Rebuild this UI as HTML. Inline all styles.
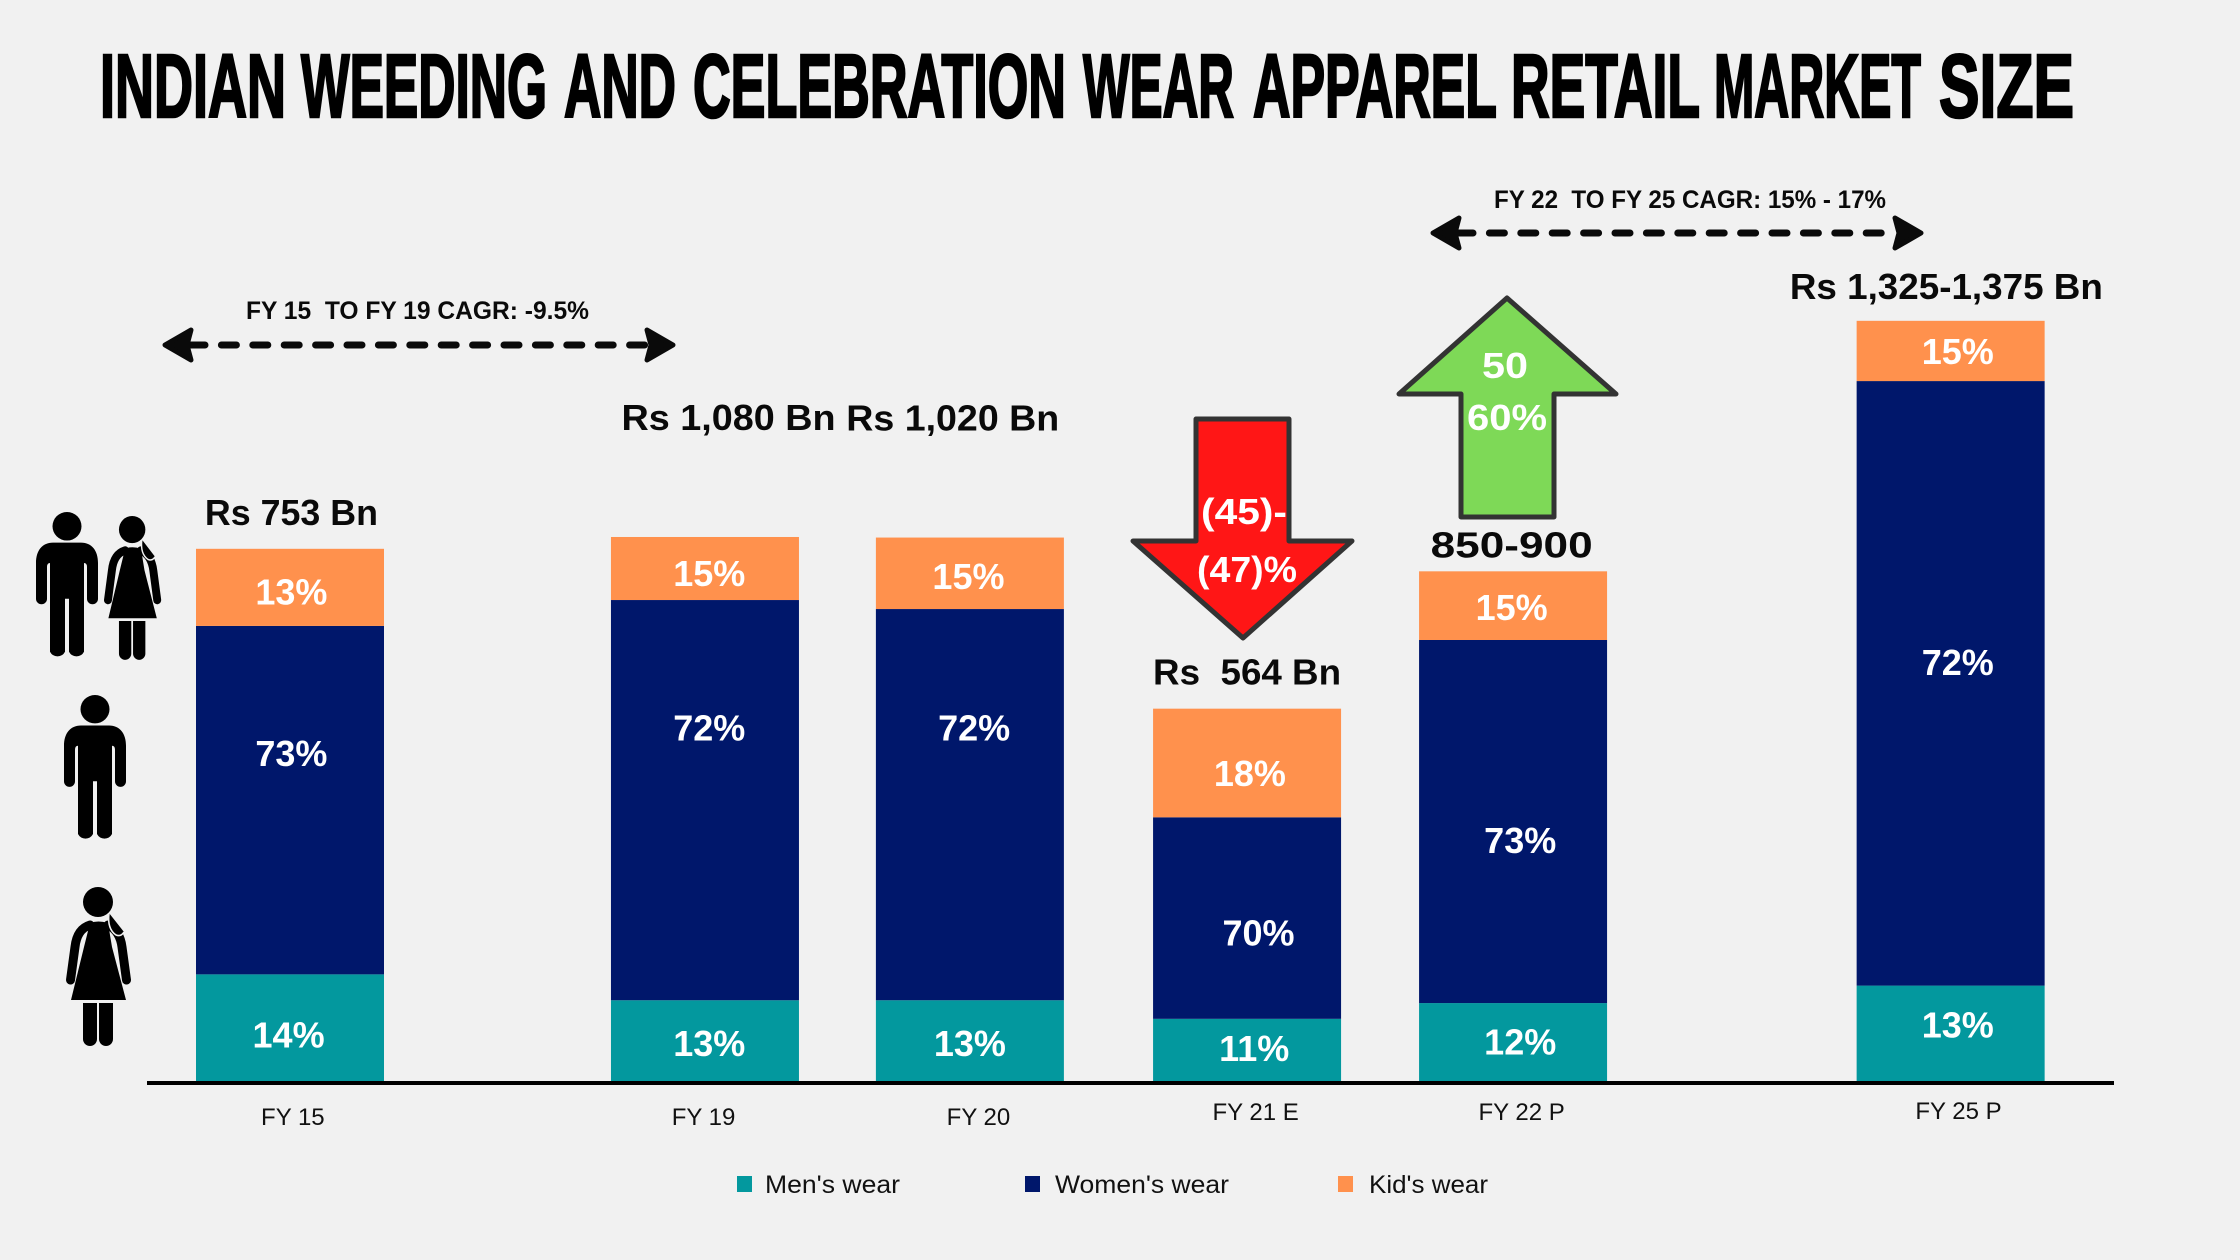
<!DOCTYPE html>
<html lang="en">
<head>
<meta charset="utf-8">
<title>Indian Wedding and Celebration Wear Apparel Retail Market Size</title>
<style>
  html, body { margin: 0; padding: 0; background: #f1f1f1; }
  svg { display: block; }
  text { font-family: "Liberation Sans", Arial, sans-serif; white-space: pre; }
  .cagr { font-size: 25px; font-weight: 700; fill: #0a0a0a; }
  .arrow-text { font-size: 36px; font-weight: 700; fill: #fff; text-anchor: middle; }
  .legend-text { font-size: 25px; fill: #111; }
</style>
</head>
<body>
<svg xmlns="http://www.w3.org/2000/svg" width="2240" height="1260" viewBox="0 0 2240 1260">
  <defs>
    <g id="man-shape">
      <ellipse cx="31" cy="14" rx="14.5" ry="14"/>
      <path d="M17 30 H45 C56 30 62 38 62 50 V85 A5.5 5.5 0 0 1 51 85 V54 Q51 50 48 50 V137 A8.5 8.5 0 0 1 33 137 V85 H29 V137 A8.5 8.5 0 0 1 14 137 V50 Q11 50 11 54 V85 A5.5 5.5 0 0 1 0 85 V50 C0 38 6 30 17 30 Z"/>
    </g>
    <g id="woman-shape">
      <ellipse cx="32" cy="15" rx="15" ry="15"/>
      <path d="M24 36 Q32 33 42 36 L46 60 L60 113 H5 L18 60 Z"/>
      <path d="M24 38 Q11 42 9 60 L4.5 93" fill="none" stroke="#000" stroke-width="9" stroke-linecap="round"/>
      <path d="M42 38 Q54 44 56 60 L60.5 93" fill="none" stroke="#000" stroke-width="9" stroke-linecap="round"/>
      <path d="M17 116 H31 V152 A7 7 0 0 1 17 152 Z"/>
      <path d="M33 116 H47 V152 A7 7 0 0 1 33 152 Z"/>
      <path d="M43 26 Q41 42 50 48 Q55 50 58 45" fill="#000" stroke="#f1f1f1" stroke-width="1.6"/>
    </g>
  </defs>

  <rect x="0" y="0" width="2240" height="1260" fill="#f1f1f1"/>

  <text y="117" font-size="90" font-weight="700" fill="#000" stroke="#000" stroke-width="2.6"><tspan x="100" textLength="186" lengthAdjust="spacingAndGlyphs">INDIAN</tspan> <tspan x="301" textLength="246" lengthAdjust="spacingAndGlyphs">WEEDING</tspan> <tspan x="564" textLength="112" lengthAdjust="spacingAndGlyphs">AND</tspan> <tspan x="693" textLength="373" lengthAdjust="spacingAndGlyphs">CELEBRATION</tspan> <tspan x="1083" textLength="151" lengthAdjust="spacingAndGlyphs">WEAR</tspan> <tspan x="1253" textLength="243" lengthAdjust="spacingAndGlyphs">APPAREL</tspan> <tspan x="1511" textLength="188" lengthAdjust="spacingAndGlyphs">RETAIL</tspan> <tspan x="1714" textLength="207" lengthAdjust="spacingAndGlyphs">MARKET</tspan> <tspan x="1939" textLength="135" lengthAdjust="spacingAndGlyphs">SIZE</tspan></text>

  <g id="bars"></g>
  <rect x="147" y="1081" width="1967" height="4" fill="#000"/>
  <g id="labels"></g>
  <g id="ticks"></g>

  <g>
    <text class="cagr" x="246" y="319" textLength="343" lengthAdjust="spacingAndGlyphs">FY 15  TO FY 19 CAGR: -9.5%</text>
    <line x1="190" y1="345" x2="650" y2="345" stroke="#0a0a0a" stroke-width="7" stroke-linecap="round" stroke-dasharray="15 16.4"/>
    <path d="M165 345 L191 330 L187 345 L191 360 Z" fill="#0a0a0a" stroke="#0a0a0a" stroke-width="5" stroke-linejoin="round"/>
    <path d="M673 345 L647 330 L651 345 L647 360 Z" fill="#0a0a0a" stroke="#0a0a0a" stroke-width="5" stroke-linejoin="round"/>
  </g>

  <g>
    <text class="cagr" x="1494" y="208" textLength="392" lengthAdjust="spacingAndGlyphs">FY 22  TO FY 25 CAGR: 15% - 17%</text>
    <line x1="1458" y1="233" x2="1897" y2="233" stroke="#0a0a0a" stroke-width="7" stroke-linecap="round" stroke-dasharray="15 16.4"/>
    <path d="M1433 233 L1459 218 L1455 233 L1459 248 Z" fill="#0a0a0a" stroke="#0a0a0a" stroke-width="5" stroke-linejoin="round"/>
    <path d="M1921 233 L1895 218 L1899 233 L1895 248 Z" fill="#0a0a0a" stroke="#0a0a0a" stroke-width="5" stroke-linejoin="round"/>
  </g>

  <g>
    <path d="M1196 419 H1289 V541 H1352 L1243 638 L1133 541 H1196 Z" fill="#ff1616" stroke="#333" stroke-width="5" stroke-linejoin="round"/>
    <text class="arrow-text" x="1244" y="524" textLength="86" lengthAdjust="spacingAndGlyphs">(45)-</text>
    <text class="arrow-text" x="1247" y="582" textLength="100" lengthAdjust="spacingAndGlyphs">(47)%</text>
  </g>

  <g>
    <path d="M1507 298 L1616 394 H1554 V517 H1461 V394 H1399 Z" fill="#7ed957" stroke="#333" stroke-width="5" stroke-linejoin="round"/>
    <text class="arrow-text" x="1505" y="378" textLength="46" lengthAdjust="spacingAndGlyphs">50</text>
    <text class="arrow-text" x="1507" y="430" textLength="80" lengthAdjust="spacingAndGlyphs">60%</text>
  </g>

  <g>
    <use href="#man-shape" transform="translate(36 512) scale(1 1.02)"/>
    <use href="#woman-shape" transform="translate(104 516) scale(0.88 0.905)"/>
    <use href="#man-shape" transform="translate(64 695) scale(1 1.015)"/>
    <use href="#woman-shape" transform="translate(66 887)"/>
  </g>

  <g>
    <g>
      <rect x="737" y="1176" width="15" height="16" fill="#03989e"/>
      <text class="legend-text" x="765" y="1193" textLength="135" lengthAdjust="spacingAndGlyphs">Men's wear</text>
    </g>
    <g>
      <rect x="1025" y="1176" width="15" height="16" fill="#00176b"/>
      <text class="legend-text" x="1055" y="1193" textLength="174" lengthAdjust="spacingAndGlyphs">Women's wear</text>
    </g>
    <g>
      <rect x="1338" y="1176" width="15" height="16" fill="#ff914d"/>
      <text class="legend-text" x="1369" y="1193" textLength="119" lengthAdjust="spacingAndGlyphs">Kid's wear</text>
    </g>
  </g>
</svg>

<script>
const categories = ['FY 15', 'FY 19', 'FY 20', 'FY 21 E', 'FY 22 P', 'FY 25 P'];
const mensWear = [193, 147, 147, 114, 142, 173];
const womensWear = [619, 711, 695, 358, 645, 1074];
const kidsWear = [137, 112, 127, 193, 122, 107];
const mensShare = ['14%', '13%', '13%', '11%', '12%', '13%'];
const womensShare = ['73%', '72%', '72%', '70%', '73%', '72%'];
const kidsShare = ['13%', '15%', '15%', '18%', '15%', '15%'];
const totalLabels = ['Rs 753 Bn', 'Rs 1,080 Bn', 'Rs 1,020 Bn', 'Rs  564 Bn', '850-900', 'Rs 1,325-1,375 Bn'];

const SVG_NS = 'http://www.w3.org/2000/svg';
const BAR_WIDTH = 188;

function yScale(value) {
  return 1083 - value * 0.5629;
}

function xScale(index) {
  const slots = [0, 1.56, 2.556, 3.598, 4.598, 6.243];
  return 196 + slots[index] * 266;
}

function make(tag, parent, props) {
  const el = document.createElementNS(SVG_NS, tag);
  Object.keys(props).forEach(function (key) { el.setAttribute(key, props[key]); });
  parent.appendChild(el);
  return el;
}

function slug(text) {
  return text.toLowerCase().replace(/[^a-z0-9]+/g, '-');
}

function draw() {
  const barsLayer = document.getElementById('bars');
  const labelsLayer = document.getElementById('labels');
  const ticksLayer = document.getElementById('ticks');

  // Hand placement of the printed labels, as offsets from the computed anchor.
  const kidsNudge = [[1, 3], [3, 3], [-1, 2], [2, 7], [-1, 1], [5, 0]];
  const womensNudge = [[1, -33], [3, -51], [3, -54], [8, 10], [5, 13], [5, -15]];
  const mensNudge = [[-1, 4], [3, 1], [0, 1], [5, -2], [5, -1], [5, -7]];
  const totalGap = [24, 107, 107, 24, 14, 22];
  const totalShift = [1, 16.5, -12, 0, -1, -3];
  const totalWidth = [173, 214, 213, 188, 162, 313];
  const tickShift = [2, -1, 6, 6, 6, 5.5];
  const tickBaseline = [1125, 1125, 1125, 1120, 1120, 1119];
  const scale = 1.4286;

  const series = [
    { key: 'mens', values: mensWear, shares: mensShare, fill: '#03989e', nudge: mensNudge },
    { key: 'womens', values: womensWear, shares: womensShare, fill: '#00176b', nudge: womensNudge },
    { key: 'kids', values: kidsWear, shares: kidsShare, fill: '#ff914d', nudge: kidsNudge }
  ];

  categories.forEach(function (category, i) {
    const left = xScale(i);
    const center = left + BAR_WIDTH / 2;
    const name = slug(category);
    let running = 0;

    series.forEach(function (s) {
      const value = s.values[i];
      const top = yScale(running + value);
      const bottom = yScale(running);
      running += value;

      const rect = make('rect', barsLayer, { x: left, y: top, width: BAR_WIDTH, height: bottom - top, fill: s.fill });
      
      

      const label = make('text', labelsLayer, {
        x: center + s.nudge[i][0] * scale,
        y: (top + bottom) / 2 + s.nudge[i][1] * scale + 13,
        'font-size': 36,
        'font-weight': 700,
        fill: '#fff',
        'text-anchor': 'middle'
      });
      label.textContent = s.shares[i];
      
      
    });

    const total = make('text', labelsLayer, {
      x: center + totalShift[i] * scale,
      y: yScale(running) - totalGap[i],
      'font-size': 36,
      'font-weight': 700,
      fill: '#0a0a0a',
      'text-anchor': 'middle',
      textLength: totalWidth[i],
      lengthAdjust: 'spacingAndGlyphs'
    });
    total.textContent = totalLabels[i];
    
    

    const tick = make('text', ticksLayer, {
      x: center + tickShift[i] * scale,
      y: tickBaseline[i],
      'font-size': 24,
      fill: '#111',
      'text-anchor': 'middle'
    });
    tick.textContent = category;
    
    
  });
}

draw();
</script>
</body>
</html>
